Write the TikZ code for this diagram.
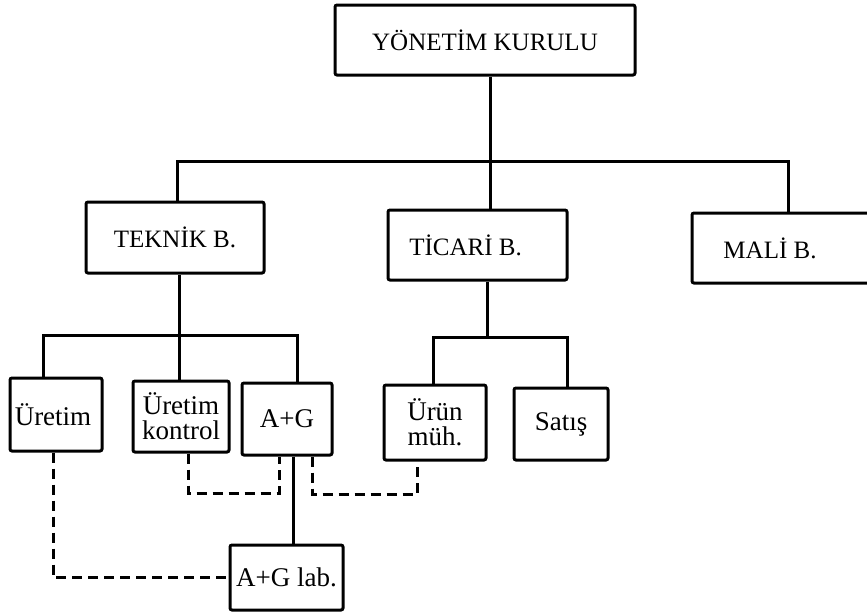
\documentclass[tikz,border=0pt]{standalone}
\usepackage{fontspec}
\setmainfont{Liberation Serif}
\begin{document}
\begin{tikzpicture}[x=1pt,y=-1pt,
  unit/.style={draw, line width=3pt, rounded corners=2pt, inner sep=0pt},
  headfont/.style={font=\fontsize{25}{27}\selectfont},
  subfont/.style={font=\fontsize{27}{25}\selectfont},
  link/.style={line width=3pt},
  dashlink/.style={line width=3pt, dash pattern=on 10pt off 6pt}]
\fill[white] (0,0) rectangle (867,614);
\useasboundingbox (0,0) rectangle (867,614);

% board and departments
\node[unit, headfont, minimum width=300pt, minimum height=70pt] (yk) at (485,40) {YÖNETİM KURULU};
\node[unit, headfont, minimum width=178pt, minimum height=71pt] (tk) at (175,237.5) {TEKNİK B.};
\node[unit, headfont, minimum width=179pt, minimum height=70pt] (ti) at (477.5,245) {TİCARİ B.\hspace*{24pt}};
\node[unit, headfont, minimum width=188pt, minimum height=70pt] (ml) at (786,248) {MALİ B.\hspace*{32pt}};

% sub-units
\node[unit, subfont, minimum width=92pt, minimum height=73pt] (ur) at (56,414.5) {Üretim\hspace*{6pt}};
\node[unit, subfont, align=center, minimum width=96pt, minimum height=71pt] (uk) at (181,416.5) {Üretim\\kontrol};
\node[unit, subfont, minimum width=90pt, minimum height=72pt] (ag) at (287,419) {A+G};
\node[unit, subfont, align=center, minimum width=102pt, minimum height=75pt] (um) at (435,422.5) {Ürün\\müh.};
\node[unit, subfont, minimum width=94pt, minimum height=72pt] (sa) at (561,424) {Satış};
\node[unit, subfont, minimum width=113pt, minimum height=65pt] (lab) at (286.5,577.5) {A+G lab.};

% top-level tree
\coordinate (tb) at (490,161);
\coordinate (c1) at (177,161);
\coordinate (c3) at (788,161);
\draw[link] (yk.south -| tb) -- (ti.north -| tb);
\draw[link] (tk.north -| c1) -- (c1) -- (c3) -- (ml.north -| c3);

% technical branch
\coordinate (t0) at (179,335);
\coordinate (t1) at (43,335);
\coordinate (t3) at (297,335);
\draw[link] (tk.south -| t0) -- (uk.north -| t0);
\draw[link] (ur.north -| t1) -- (t1) -- (t3) -- (ag.north -| t3);

% commercial branch
\coordinate (s0) at (487,337);
\coordinate (s1) at (433,337);
\coordinate (s2) at (567,337);
\draw[link] (ti.south -| s0) -- (s0);
\draw[link] (um.north -| s1) -- (s1) -- (s2) -- (sa.north -| s2);

% laboratory
\coordinate (l0) at (293,0);
\draw[link] (ag.south -| l0) -- (lab.north -| l0);

% dashed cooperation links
\coordinate (d1) at (53,577);
\coordinate (d2) at (188,493);
\coordinate (d3) at (279,493);
\coordinate (d4) at (312,494);
\coordinate (d5) at (417,494);
\draw[dashlink] (ur.south -| d1) |- (lab.west);
\draw[dashlink] (uk.south -| d2) -- (d2) -- (d3) -- (ag.south -| d3);
\draw[dashlink] (ag.south -| d4) -- (d4) -- (d5) -- (um.south -| d5);
\end{tikzpicture}
\end{document}
